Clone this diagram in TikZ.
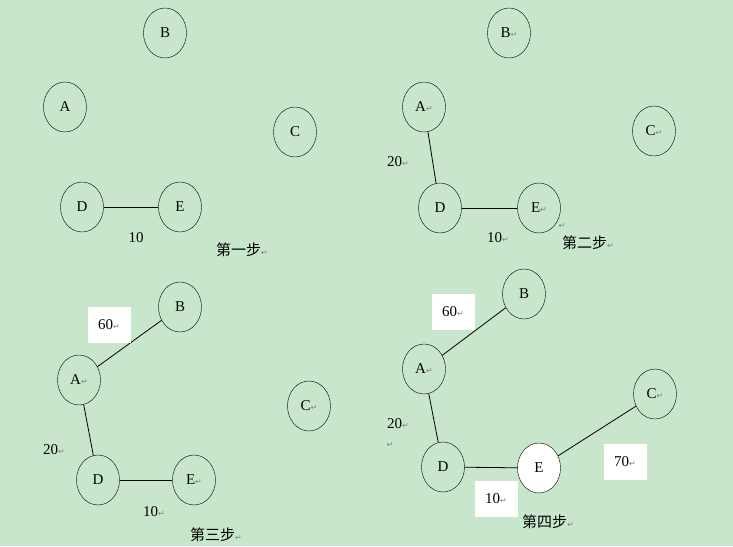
\documentclass[tikz,border=0pt]{standalone}
\usepackage{fontspec}
\setmainfont{Liberation Serif}
\newfontfamily\cjk{Noto Sans CJK SC}
\newfontfamily\dv{DejaVu Sans}
\newcommand{\rt}{{\dv\fontsize{8}{8}\selectfont\color{gray}↵}}
\definecolor{bg}{HTML}{C8E6CB}
\begin{document}
\begin{tikzpicture}[x=1pt,y=-1pt,
  v/.style={draw,ellipse,minimum width=43pt,minimum height=50pt,inner sep=0pt,font=\fontsize{15}{15}\selectfont},
  lab/.style={font=\fontsize{15}{15}\selectfont,inner sep=1pt},
  wb/.style={fill=white,minimum width=43pt,minimum height=36pt,font=\fontsize{15}{15}\selectfont},
  st/.style={font=\cjk\fontsize{15}{15}\selectfont,inner sep=1pt},
  e/.style={draw,line width=0.8pt}]
\usetikzlibrary{shapes.geometric}
\fill[bg] (0,0) rectangle (733,546);
\useasboundingbox (0,0) rectangle (733,546);
% panel 1
\node[v] (B1) at (165,33) {B};
\node[v] (A1) at (65,107) {A};
\node[v] (C1) at (295,132) {C};
\node[v] (D1) at (82,207) {D};
\node[v] (E1) at (180,207) {E};
\draw[e] (D1)--(E1);
\node[lab] (l1) at (136,238) {10};
\node[st] (s1) at (242,250) {第一步\rt};
% panel 2
\node[v] (B2) at (509,33) {B\rt};
\node[v] (A2) at (424,107) {A\rt};
\node[v] (C2) at (654,131) {C\rt};
\node[v] (D2) at (440,208) {D};
\node[v] (E2) at (539,208) {E\rt};
\draw[e] (A2)--(D2);
\draw[e] (D2)--(E2);
\node[lab] (l2a) at (398,162) {20\rt};
\node[lab] (l2b) at (498,238) {10\rt};
\node[lab] (l2c) at (562,226) {\rt};
\node[st] (s2) at (588,243) {第二步\rt};
% panel 3
\node[v] (B3) at (180,307) {B};
\node[v] (A3) at (79,380) {A\rt};
\node[v] (C3) at (309,406) {C\rt};
\node[v] (D3) at (98,480) {D};
\node[v] (E3) at (194,480) {E\rt};
\draw[e] (A3)--(B3);
\draw[e] (A3)--(D3);
\draw[e] (D3)--(E3);
\node[wb] (w3) at (109,325) {60\rt};
\node[lab] (l3a) at (54,450) {20\rt};
\node[lab] (l3b) at (154,512) {10\rt};
\node[st] (s3) at (216,535) {第三步\rt};
% panel 4
\node[v] (B4) at (524,294) {B};
\node[v] (A4) at (424,369) {A\rt};
\node[v] (C4) at (655,394) {C\rt};
\node[v] (D4) at (443,467) {D};
\node[v,fill=white] (E4) at (539,468) {E};
\draw[e] (A4)--(B4);
\draw[e] (A4)--(D4);
\draw[e] (D4)--(E4);
\draw[e] (E4)--(C4);
\node[wb] (w4a) at (453,312) {60\rt};
\node[wb] (w4b) at (625,462) {70\rt};
\node[wb] (w4c) at (496,499) {10\rt};
\node[lab] (l4a) at (398,424) {20\rt};
\node[lab] (l4b) at (390,445) {\rt};
\node[st] (s4) at (548,522) {第四步\rt};
\end{tikzpicture}
\end{document}
